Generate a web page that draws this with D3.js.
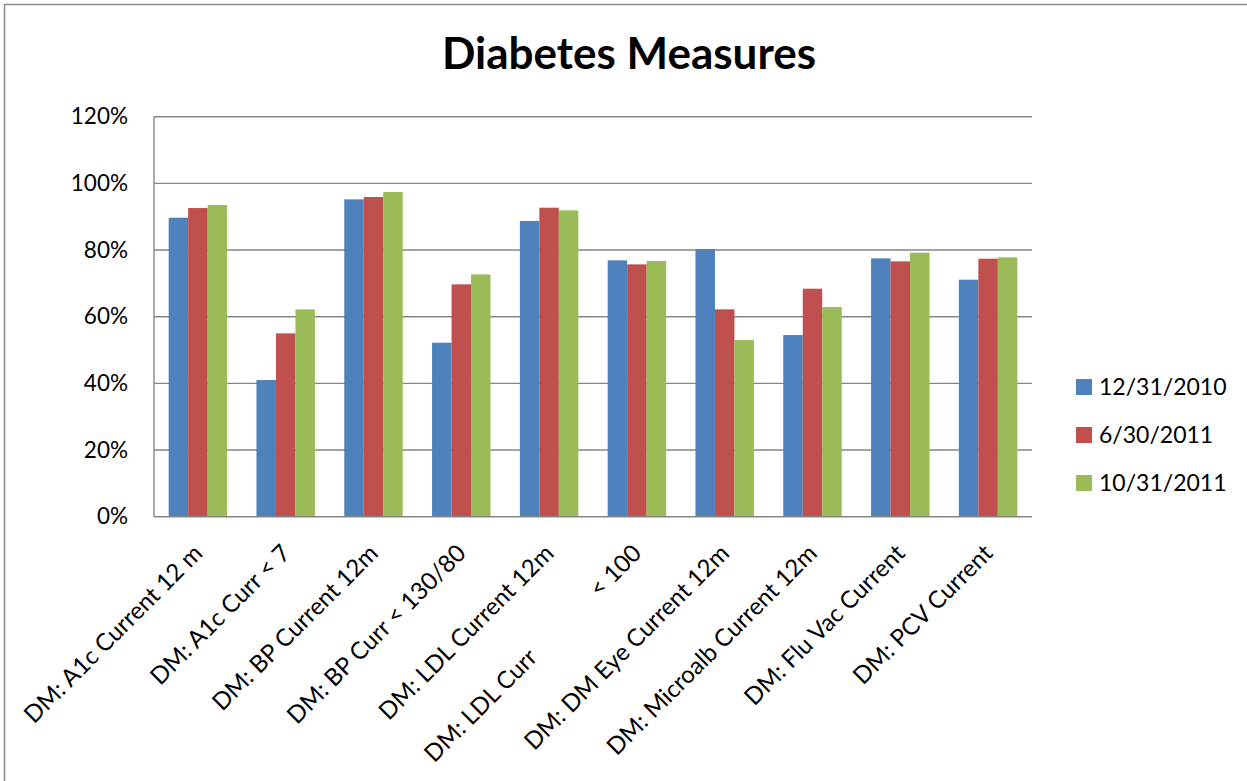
<!DOCTYPE html>
<html>
<head>
<meta charset="utf-8">
<script src="https://cdn.jsdelivr.net/npm/d3@7"></script>
<style>
  html, body { margin: 0; padding: 0; background: #fff; }
  svg { display: block; font-family: Lato, "Open Sans", sans-serif; }
</style>
</head>
<body>
<svg id="chart" width="1247" height="781"></svg>
<script>
// Diabetes quality measures, share of patients meeting each measure
const categories = [
  "DM: A1c Current 12 m",
  "DM: A1c Curr < 7",
  "DM: BP Current 12m",
  "DM: BP Curr < 130/80",
  "DM: LDL Current 12m",
  "DM: LDL Curr              < 100",
  "DM: DM Eye Current 12m",
  "DM: Microalb Current 12m",
  "DM: Flu Vac Current",
  "DM: PCV Current"
];
const seriesNames = ["12/31/2010", "6/30/2011", "10/31/2011"];
const values_2010_12_31 = [0.897, 0.410, 0.952, 0.522, 0.887, 0.769, 0.803, 0.545, 0.775, 0.711];
const values_2011_06_30 = [0.926, 0.550, 0.959, 0.697, 0.927, 0.757, 0.622, 0.684, 0.766, 0.774];
const values_2011_10_31 = [0.935, 0.622, 0.974, 0.727, 0.919, 0.767, 0.530, 0.629, 0.792, 0.778];
const yTicks = [0, 0.2, 0.4, 0.6, 0.8, 1.0, 1.2];
const colors = ["#4F81BD", "#C0504D", "#9BBB59"];

const seriesValues = [values_2010_12_31, values_2011_06_30, values_2011_10_31];

const svg = d3.select("#chart");

// outer chart frame
svg.append("rect")
  .attr("x", 4.5).attr("y", 4.5)
  .attr("width", 1260).attr("height", 800)
  .attr("fill", "none")
  .attr("stroke", "#8c8c8c")
  .attr("stroke-width", 1.5);

// title
svg.append("text")
  .attr("x", 629).attr("y", 69)
  .attr("text-anchor", "middle")
  .attr("font-weight", "bold")
  .attr("font-size", 44)
  .attr("fill", "#000")
  .text("Diabetes Measures");

const plot = { left: 154, right: 1032, top: 116.7, bottom: 516.7 };

const y = d3.scaleLinear().domain([0, 1.2]).range([plot.bottom, plot.top]);
const x0 = d3.scaleBand().domain(categories)
  .range([plot.left, plot.right])
  .paddingInner(0.334).paddingOuter(0.167);
const x1 = d3.scaleBand().domain(seriesNames).range([0, x0.bandwidth()]);

// horizontal gridlines
svg.append("g")
  .selectAll("line")
  .data(yTicks.filter(t => t > 0))
  .join("line")
  .attr("x1", plot.left).attr("x2", plot.right)
  .attr("y1", d => y(d)).attr("y2", d => y(d))
  .attr("stroke", "#868686")
  .attr("stroke-width", 1.4);

// y axis labels
const yAxis = d3.axisLeft(y)
  .tickValues(yTicks)
  .tickFormat(d3.format(".0%"))
  .tickSize(0)
  .tickPadding(26);
const yg = svg.append("g")
  .attr("transform", `translate(${plot.left},0)`)
  .call(yAxis);
yg.select(".domain").remove();
yg.selectAll("text")
  .attr("font-size", 22.5)
  .attr("font-family", "Lato, 'Open Sans', sans-serif")
  .attr("fill", "#000");

// bars
const rows = categories.map((c, i) => ({
  category: c,
  values: seriesNames.map((s, k) => ({ series: s, value: seriesValues[k][i], k }))
}));

svg.append("g")
  .selectAll("g")
  .data(rows)
  .join("g")
  .attr("transform", d => `translate(${x0(d.category)},0)`)
  .selectAll("rect")
  .data(d => d.values)
  .join("rect")
  .attr("x", d => x1(d.series))
  .attr("width", x1.bandwidth())
  .attr("y", d => y(d.value))
  .attr("height", d => y(0) - y(d.value))
  .attr("fill", d => colors[d.k]);

// axis lines
svg.append("line")
  .attr("x1", plot.left).attr("x2", plot.left)
  .attr("y1", plot.top).attr("y2", plot.bottom)
  .attr("stroke", "#868686").attr("stroke-width", 1.4);
svg.append("line")
  .attr("x1", plot.left).attr("x2", plot.right)
  .attr("y1", plot.bottom).attr("y2", plot.bottom)
  .attr("stroke", "#868686").attr("stroke-width", 1.4);

// rotated category labels
svg.append("g")
  .selectAll("text")
  .data(categories)
  .join("text")
  .attr("transform", d => `translate(${x0(d) + x0.bandwidth() / 2 - 6},${plot.bottom + 26}) rotate(-45)`)
  .attr("text-anchor", "end")
  .attr("dy", "0.71em")
  .attr("font-size", 24)
  .attr("fill", "#000")
  .style("white-space", "pre")
  .text(d => d);

// legend
const legend = svg.append("g")
  .selectAll("g")
  .data(seriesNames)
  .join("g")
  .attr("transform", (d, i) => `translate(1076,${379 + i * 48})`);
legend.append("rect")
  .attr("width", 16).attr("height", 16)
  .attr("fill", (d, i) => colors[i]);
legend.append("text")
  .attr("x", 23).attr("y", 8)
  .attr("dy", "0.36em")
  .attr("font-size", 23)
  .attr("fill", "#000")
  .text(d => d);
</script>
</body>
</html>
